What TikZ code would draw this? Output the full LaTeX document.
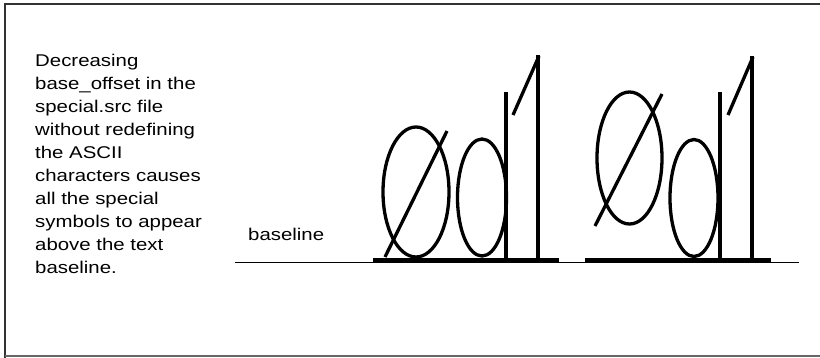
\documentclass[tikz,border=0pt]{standalone}
\usepackage{fontspec}
\setmainfont{Liberation Sans}[FakeStretch=1.2]
\begin{document}
\begin{tikzpicture}[x=1pt,y=-1pt,
  frame/.style={draw=black!80,line width=2pt},
  glyph/.style={draw=black,line width=3.3pt},
  stem/.style={draw=black,line width=3.8pt},
  base/.style={draw=black,line width=1.4pt},
  bar/.style={draw=black,line width=4pt},
  txt/.style={font=\fontsize{17}{23}\selectfont,inner sep=0pt}]
\useasboundingbox (0,0) rectangle (820,358);
% frame
\draw[frame] (5,358) -- (5,4) -- (820,4);
\draw[draw=black!60,line width=1.4pt] (5,356) -- (820,356);
% explanatory text
\node[txt,anchor=north west,align=left] (note) at (35,53.5)
  {Decreasing\\base\_offset in the\\special.src file\\without redefining\\the ASCII\\characters causes\\all the special\\symbols to appear\\above the text\\baseline.};
% baseline label and line
\node[txt,anchor=base west] (bl) at (248,241) {baseline};
\coordinate (b0) at (235,262.5);
\coordinate (b1) at (799,262.5);
\draw[base] (b0) -- (b1);
% group 1
\draw[bar] (373,260) -- (559,260);
\draw[glyph] (416,192) ellipse [x radius=33,y radius=65];
\draw[glyph] (447,131) -- (385,257);
\draw[glyph] (482,197.5) ellipse [x radius=24.5,y radius=58.5];
\draw[stem] (506,92) -- (506,259);
\draw[stem] (538,55) -- (538,259);
\draw[glyph] (539,56) -- (513,115);
% group 2
\draw[bar] (585,260) -- (771,260);
\draw[glyph] (629.5,158) ellipse [x radius=32.5,y radius=66];
\draw[glyph] (662,94) -- (595,226);
\draw[glyph] (694,198) ellipse [x radius=24,y radius=58.5];
\draw[stem] (720,92) -- (720,259);
\draw[stem] (752,56) -- (752,259);
\draw[glyph] (753,57) -- (728,115);
\end{tikzpicture}
\end{document}
